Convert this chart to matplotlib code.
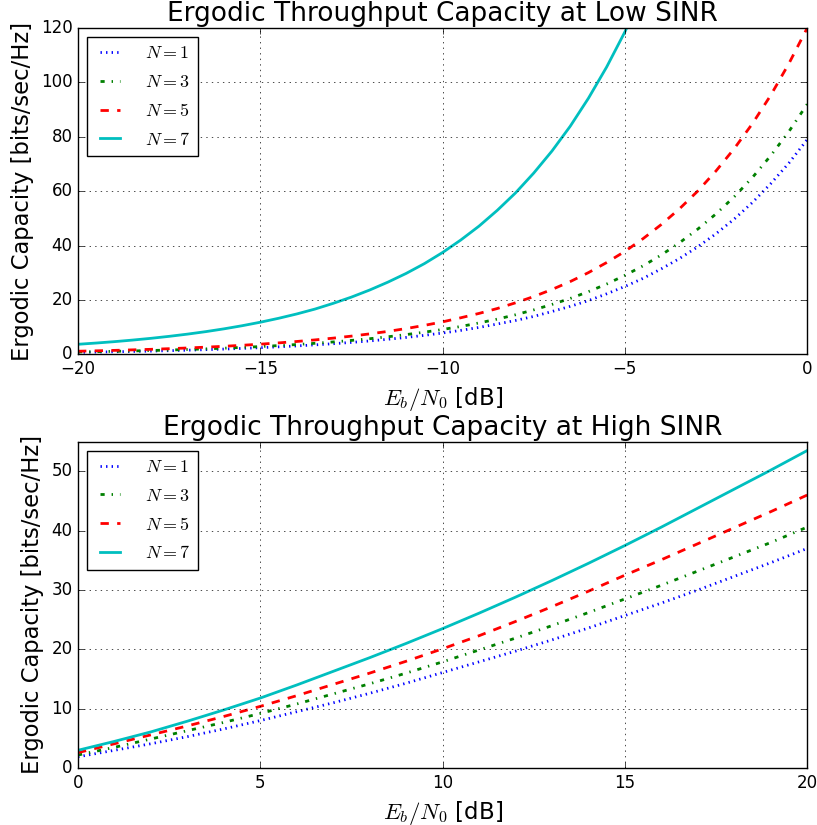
import numpy as np
import matplotlib
matplotlib.use("Agg")
import matplotlib.pyplot as plt

plt.style.use('classic')

labels = [r'$N=1$', r'$N=3$', r'$N=5$', r'$N=7$']
styles = [(':', 'b'), ('-.', 'g'), ('--', 'r'), ('-', 'c')]

# low SINR, Eb/N0 from -20 to 0 dB in 0.5 dB steps
ebn0_low = np.arange(-20, 0.25, 0.5)
cap_low_n1 = [0.79, 0.89, 1.0, 1.12, 1.25, 1.40, 1.58, 1.77, 1.99, 2.23, 2.50,
              2.81, 3.15, 3.53, 3.96, 4.44, 4.98, 5.59, 6.27, 7.04, 7.9,
              8.86, 9.95, 11.2, 12.5, 14.0, 15.8, 17.7, 19.8, 22.3, 25.0,
              28.0, 31.5, 35.3, 39.6, 44.4, 49.8, 55.9, 62.8, 70.4, 79.0]
cap_low_n3 = [0.92, 1.03, 1.16, 1.30, 1.46, 1.64, 1.84, 2.06, 2.31, 2.60, 2.91,
              3.27, 3.66, 4.11, 4.61, 5.17, 5.80, 6.51, 7.31, 8.20, 9.20,
              10.3, 11.6, 13.0, 14.6, 16.4, 18.4, 20.6, 23.1, 25.9, 29.1,
              32.6, 36.6, 41.1, 46.1, 51.7, 58.0, 65.1, 73.1, 82.0, 92.0]
cap_low_n5 = [1.20, 1.35, 1.51, 1.70, 1.90, 2.13, 2.39, 2.69, 3.01, 3.38, 3.79,
              4.26, 4.78, 5.36, 6.01, 6.75, 7.57, 8.49, 9.53, 10.7, 12.0,
              13.5, 15.1, 16.9, 19.0, 21.3, 23.9, 26.8, 30.1, 33.8, 37.9,
              42.6, 47.8, 53.6, 60.1, 67.5, 75.7, 84.9, 95.3, 107.0, 120.0]
cap_low_n7 = [3.75, 4.21, 4.72, 5.30, 5.94, 6.67, 7.48, 8.39, 9.42, 10.57, 11.86,
              13.3, 14.9, 16.7, 18.8, 21.1, 23.7, 26.6, 29.8, 33.4, 37.5,
              42.1, 47.2, 53.0, 59.4, 66.7, 74.8, 83.9, 94.2, 105.7, 118.6,
              133.1, 149.3]

# high SINR, Eb/N0 from 0 to 20 dB
ebn0_high = list(range(0, 21))
cap_high_n1 = [1.9, 3.0, 4.1, 5.3, 6.6, 8.0, 9.5, 11.0, 12.6, 14.3, 16.1,
               17.9, 19.7, 21.6, 23.6, 25.7, 27.8, 30.0, 32.3, 34.6, 37.0]
cap_high_n3 = [2.2, 3.5, 4.9, 6.3, 7.7, 9.2, 10.8, 12.5, 14.2, 16.0, 17.9,
               19.9, 21.9, 24.0, 26.2, 28.5, 30.8, 33.2, 35.6, 38.0, 40.6]
cap_high_n5 = [2.6, 4.1, 5.6, 7.1, 8.7, 10.4, 12.2, 14.1, 16.0, 18.0, 20.1,
               22.3, 24.7, 27.2, 29.8, 32.5, 35.1, 37.8, 40.5, 43.2, 46.0]
cap_high_n7 = [3.0, 4.5, 6.1, 7.9, 9.8, 11.8, 14.0, 16.3, 18.6, 21.0, 23.5,
               26.1, 28.8, 31.6, 34.5, 37.5, 40.6, 43.8, 47.0, 50.2, 53.5]

low = [cap_low_n1, cap_low_n3, cap_low_n5, cap_low_n7]
high = [cap_high_n1, cap_high_n3, cap_high_n5, cap_high_n7]

fig, (ax1, ax2) = plt.subplots(2, 1, figsize=(8.17, 8.25), dpi=100)
fig.patch.set_facecolor('white')
fig.subplots_adjust(left=0.0955, right=0.988, top=0.966, bottom=0.069, hspace=0.267)

for ys, lab, (ls, c) in zip(low, labels, styles):
    ax1.plot(ebn0_low[:len(ys)], ys, linestyle=ls, color=c, lw=2, label=lab)
ax1.set_xlim(-20, 0)
ax1.set_ylim(0, 120)
ax1.set_title('Ergodic Throughput Capacity at Low SINR', fontsize=19)
ax1.set_xlabel(r'$E_b/N_0$ [dB]', fontsize=16.5)
ax1.set_ylabel('Ergodic Capacity [bits/sec/Hz]', fontsize=16.3)
ax1.grid(True)
ax1.legend(loc='upper left', fontsize=13, handlelength=1.7,
           handletextpad=1.1, labelspacing=0.6)

for ys, lab, (ls, c) in zip(high, labels, styles):
    ax2.plot(ebn0_high, ys, linestyle=ls, color=c, lw=2, label=lab)
ax2.set_xlim(0, 20)
ax2.set_ylim(0, 55)
ax2.set_title('Ergodic Throughput Capacity at High SINR', fontsize=19)
ax2.set_xlabel(r'$E_b/N_0$ [dB]', fontsize=16.5)
ax2.set_ylabel('Ergodic Capacity [bits/sec/Hz]', fontsize=16.3)
ax2.grid(True)
ax2.legend(loc='upper left', fontsize=13, handlelength=1.7,
           handletextpad=1.1, labelspacing=0.6)

fig.savefig('out.png', dpi=100, facecolor='white')
